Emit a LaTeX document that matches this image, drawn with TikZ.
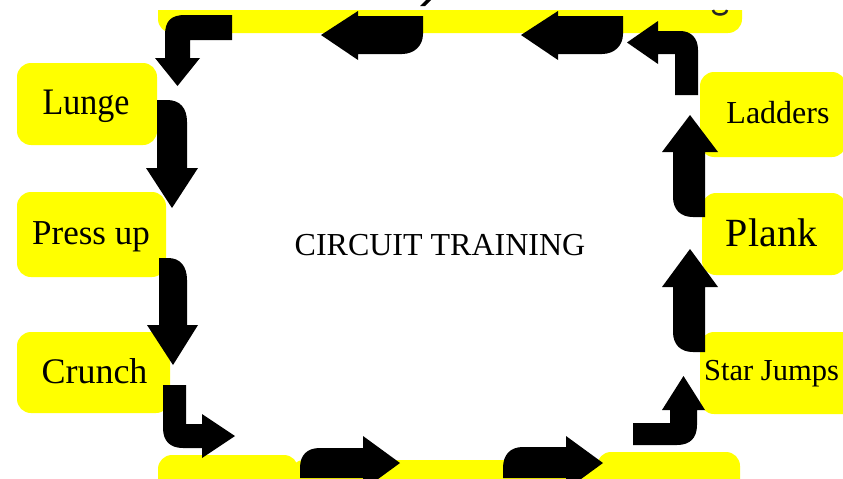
\documentclass[tikz,border=0pt]{standalone}
\usepackage{fontspec}
\setmainfont{Liberation Serif}
\definecolor{boxyellow}{RGB}{255,255,0}
\begin{document}
\begin{tikzpicture}[x=1pt,y=-1pt,
  ybox/.style={fill=boxyellow, rounded corners=14pt},
  blk/.style={fill=black},
  lbl/.style={anchor=base, inner sep=0pt, text=black}]
\useasboundingbox (0,0) rectangle (843,479);
\clip (0,0) rectangle (843,479);
\fill[white] (0,0) rectangle (843,479);
% boxes
\fill[ybox] (158,-30) rectangle (742,33);
\fill[ybox] (17,63) rectangle (157,145);
\fill[ybox] (17,192) rectangle (166,277);
\fill[ybox] (17,332) rectangle (170,413);
\fill[ybox] (700,72) rectangle (846,157);
\fill[ybox] (702,193) rectangle (846,275);
\fill[ybox] (700,332) rectangle (860,414);
\fill[ybox] (290,460) rectangle (610,520);
\fill[ybox] (158,455) rectangle (298,520);
\fill[ybox] (597,452) rectangle (740,520);
% white cut at top and title fragment
\fill[white] (0,0) rectangle (843,10);
\fill[black] (420,6) -- (425,6) -- (431,0) -- (426,0) -- cycle;
\draw[black!85, line width=2.5pt] (713,10) .. controls (714,16) and (726,16) .. (727,10);
% labels
\node[lbl, font=\fontsize{34}{40}\selectfont, yscale=1.1] (lunge) at (86,114) {Lunge};
\node[lbl, font=\fontsize{35}{40}\selectfont] (pressup) at (91,244) {Press up};
\node[lbl, font=\fontsize{36}{40}\selectfont] (crunch) at (94.5,383) {Crunch};
\node[lbl, font=\fontsize{32}{40}\selectfont] (ladders) at (778,123) {Ladders};
\node[lbl, font=\fontsize{40}{44}\selectfont] (plank) at (771.5,246) {Plank};
\node[lbl, anchor=base west, font=\fontsize{30.5}{40}\selectfont] (star) at (704,380) {Star Jumps};
\node[lbl, font=\fontsize{32}{40}\selectfont] (title) at (440,255) {CIRCUIT TRAINING};
% arrows
% top band -> Lunge
\fill[blk] (232,15) -- (185,15) .. controls (171,15) and (165,21) .. (165,35) -- (165,58) -- (155,58) -- (177.5,86) -- (200,58) -- (190,58) -- (190,40) -- (232,40) -- cycle;
% Lunge -> Press up
\fill[blk] (157,100) -- (167,100) .. controls (180,100) and (187,108) .. (187,122) -- (187,168) -- (198,168) -- (172,208) -- (146,168) -- (157,168) -- cycle;
% Press up -> Crunch
\fill[blk] (159,258) -- (168,258) .. controls (180,258) and (187,266) .. (187,280) -- (187,325) -- (198,325) -- (173,365) -- (147,325) -- (159,325) -- cycle;
% Crunch -> bottom
\fill[blk] (163,385) -- (186,385) -- (186,424) -- (202,424) -- (202,414) -- (235,436) -- (202,458) -- (202,448) -- (183,448) .. controls (170,448) and (163,441) .. (163,428) -- cycle;
% bottom right arrows
\fill[blk] (300,478) -- (300,468) .. controls (300,455) and (307,448) .. (320,448) -- (363,448) -- (363,436) -- (400,463) -- (363,490) -- (363,478) -- cycle;
\fill[blk] (503,478) -- (503,468) .. controls (503,455) and (510,447) .. (523,447) -- (566,447) -- (566,436) -- (603,463) -- (566,490) -- (566,478) -- cycle;
% bottom -> Star Jumps
\fill[blk] (633,423) -- (670,423) -- (670,410) -- (662,410) -- (683.5,376) -- (705,410) -- (697,410) -- (697,425) .. controls (697,438) and (690,445) .. (677,445) -- (633,445) -- cycle;
% Star Jumps -> Plank
\fill[blk] (705,352) -- (693,352) .. controls (681,352) and (673,345) .. (673,332) -- (673,287) -- (662,287) -- (690,249) -- (718,287) -- (705,287) -- cycle;
% Plank -> Ladders
\fill[blk] (705,217) -- (693,217) .. controls (681,217) and (673,210) .. (673,197) -- (673,152) -- (662,152) -- (690,115) -- (718,152) -- (705,152) -- cycle;
% Ladders -> top
\fill[blk] (675,95) -- (675,54) -- (658,54) -- (658,64) -- (627,42.5) -- (658,21) -- (658,31) -- (680,31) .. controls (691,31) and (698,38) .. (698,50) -- (698,95) -- cycle;
% top left-pointing arrows
\fill[blk] (321,35) -- (358,11) -- (358,16) -- (423,16) -- (423,34) .. controls (423,46) and (414,54) .. (402,54) -- (358,54) -- (358,60) -- cycle;
\fill[blk] (521,35) -- (558,11) -- (558,16) -- (623,16) -- (623,34) .. controls (623,46) and (614,54) .. (602,54) -- (558,54) -- (558,60) -- cycle;
\end{tikzpicture}
\end{document}
